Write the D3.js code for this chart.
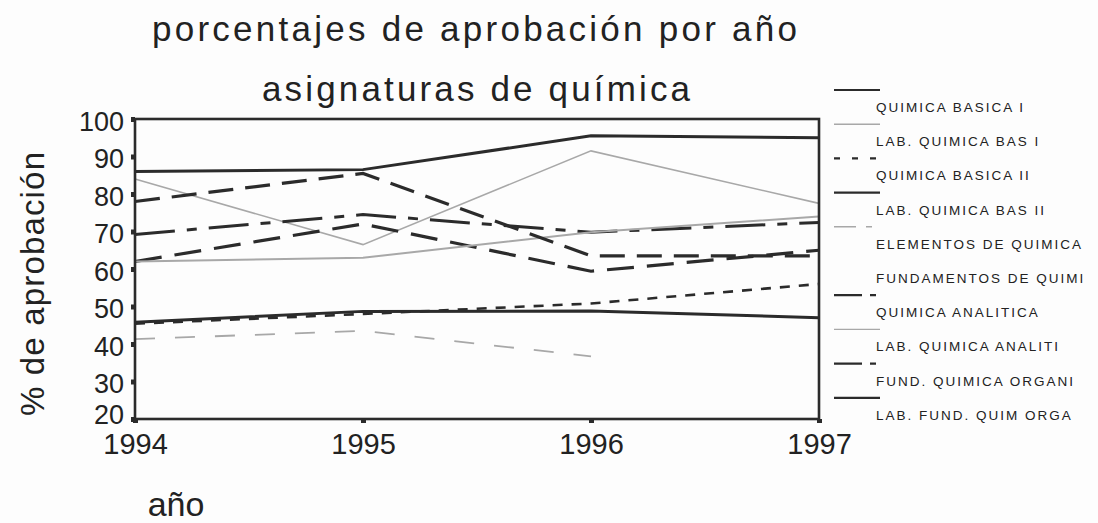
<!DOCTYPE html>
<meta charset="utf-8">
<style>
  body { margin: 0; background: #fdfdfd; }
  svg { display: block; }
  text { font-family: "Liberation Sans", Arial, sans-serif; fill: #222; }
</style>
<body></body>
<script src="https://cdn.jsdelivr.net/npm/d3@7/dist/d3.min.js"></script>
<script>
  const width = 1098
  const height = 523

  const years = [1994, 1995, 1996, 1997]
  const yTicks = [20, 30, 40, 50, 60, 70, 80, 90, 100]

  const seriesNames = [
    "QUIMICA BASICA I",
    "LAB. QUIMICA BAS I",
    "QUIMICA BASICA II",
    "LAB. QUIMICA BAS II",
    "ELEMENTOS DE QUIMICA",
    "FUNDAMENTOS DE QUIMI",
    "QUIMICA ANALITICA",
    "LAB. QUIMICA ANALITI",
    "FUND. QUIMICA ORGANI",
    "LAB. FUND. QUIM ORGA"
  ]

  // % de aprobación, one value per year (null = no data that year)
  const quimicaBasicaI     = [86, 86.5, 95.5, 95]
  const labQuimicaBasI     = [84, 66.5, 91.5, 77.5]
  const quimicaBasicaII    = [45.4, 48, 50.8, 56]
  const labQuimicaBasII    = [45.8, 48.7, 48.8, 47]
  const elementosQuimica   = [41.3, 43.5, 36.7, null]
  const fundamentosQuimi   = [69.2, 74.5, 69.8, 72.4]
  const quimicaAnalitica   = [62, 72, 59.4, 65]
  const labQuimicaAnaliti  = [62, 63, 69.8, 74]
  const fundQuimicaOrgani  = [78, 85.5, 63.5, 63.5]
  const labFundQuimOrga    = [null, null, null, null]

  const seriesValues = [
    quimicaBasicaI, labQuimicaBasI, quimicaBasicaII, labQuimicaBasII, elementosQuimica,
    fundamentosQuimi, quimicaAnalitica, labQuimicaAnaliti, fundQuimicaOrgani, labFundQuimOrga
  ]

  // line styles, same order as the series (sample = dash used in the legend swatch)
  const dark = "#2b2b2b"
  const gray = "#a8a8a8"
  const styles = [
    { stroke: dark, width: 3,   dash: null },
    { stroke: gray, width: 1.6, dash: null },
    { stroke: dark, width: 2.6, dash: "10,9",  sample: "6,12" },
    { stroke: dark, width: 3,   dash: null },
    { stroke: gray, width: 1.8, dash: "20,20", sample: "22,10,6,20" },
    { stroke: dark, width: 3,   dash: "40,12,10,12", noSample: true },
    { stroke: dark, width: 3.2, dash: "27,13", sample: "28,8,6,20" },
    { stroke: gray, width: 2,   dash: null },
    { stroke: dark, width: 3.2, dash: "25,12", sample: "28,8,6,20" },
    { stroke: dark, width: 2.4, dash: null }
  ]

  const svg = d3.select("body")
    .append("svg")
    .attr("width", width)
    .attr("height", height)

  svg.append("rect")
    .attr("width", width)
    .attr("height", height)
    .attr("fill", "#fdfdfd")

  const x = d3.scaleLinear().domain([1994, 1997]).range([135, 819])
  const y = d3.scaleLinear().domain([20, 100]).range([419, 119])

  // titles
  svg.append("text")
    .attr("x", 152).attr("y", 41)
    .attr("textLength", 645).attr("lengthAdjust", "spacing")
    .style("font-size", "35px")
    .text("porcentajes de aprobación por año")

  svg.append("text")
    .attr("x", 262).attr("y", 101)
    .attr("textLength", 428).attr("lengthAdjust", "spacing")
    .style("font-size", "35px")
    .text("asignaturas de química")

  svg.append("text")
    .attr("transform", "translate(44, 416) rotate(-90)")
    .attr("textLength", 264).attr("lengthAdjust", "spacing")
    .style("font-size", "33px")
    .text("% de aprobación")

  svg.append("text")
    .attr("x", 176).attr("y", 516)
    .attr("text-anchor", "middle")
    .style("font-size", "34px")
    .text("año")

  // axes
  const yAxis = svg.append("g")
    .attr("transform", `translate(${x(1994)},0)`)
    .call(d3.axisLeft(y).tickValues(yTicks).tickSize(4).tickPadding(7))
  yAxis.select(".domain").remove()
  yAxis.selectAll(".tick line").attr("stroke", dark).attr("stroke-width", 5)
  yAxis.selectAll(".tick text")
    .style("font-size", "27px")
    .style("fill", "#222")
    .attr("dy", d => d === 20 ? "0.15em" : "0.42em")

  const xAxis = svg.append("g")
    .attr("transform", `translate(0,${y(20)})`)
    .call(d3.axisBottom(x).tickValues(years).tickFormat(d3.format("d")).tickSize(4).tickPadding(10))
  xAxis.select(".domain").remove()
  xAxis.selectAll(".tick line").attr("stroke", dark).attr("stroke-width", 5)
  xAxis.selectAll(".tick text")
    .style("font-size", "29px")
    .style("fill", "#222")

  // lines
  const line = d3.line()
    .defined(d => d != null)
    .x((d, i) => x(years[i]))
    .y(d => y(d))

  svg.append("g")
    .selectAll("path")
    .data(seriesValues)
    .join("path")
    .attr("d", line)
    .attr("fill", "none")
    .attr("stroke", (d, i) => styles[i].stroke)
    .attr("stroke-width", (d, i) => styles[i].width)
    .attr("stroke-dasharray", (d, i) => styles[i].dash)

  // plot frame
  svg.append("rect")
    .attr("x", x(1994)).attr("y", y(100))
    .attr("width", x(1997) - x(1994))
    .attr("height", y(20) - y(100))
    .attr("fill", "none")
    .attr("stroke", dark)
    .attr("stroke-width", 2.6)

  // legend
  const legend = svg.append("g")
  const rowH = 34.2
  seriesNames.forEach((name, i) => {
    const cy = 107 + i * rowH
    const s = styles[i]
    if (!s.noSample) {
      legend.append("line")
        .attr("x1", 834).attr("x2", 880)
        .attr("y1", cy - 17).attr("y2", cy - 17)
        .attr("stroke", s.stroke)
        .attr("stroke-width", s.stroke === gray ? 1.4 : 2.2)
        .attr("stroke-dasharray", s.sample || null)
    }
    legend.append("text")
      .attr("x", 876).attr("y", cy + 5)
      .style("font-size", "13.5px")
      .style("letter-spacing", "2px")
      .text(name)
  })
</script>
